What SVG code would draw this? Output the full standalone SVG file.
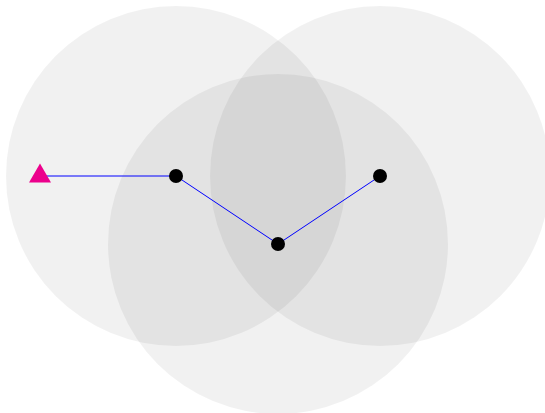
<svg xmlns="http://www.w3.org/2000/svg" width="545" height="413" viewBox="0 0 545 413">
<style>
.zone{fill:#000;fill-opacity:0.055;stroke:none}
.edge{stroke:#0000ff;stroke-width:1;fill:none}
.dot{fill:#000}
.start{fill:#ec008c}
</style>
<rect width="545" height="413" fill="#fff"/>
<g id="zones">
<circle class="zone" cx="176" cy="176" r="170"/>
<circle class="zone" cx="380" cy="176" r="170"/>
<circle class="zone" cx="278" cy="244" r="170"/>
</g>
<g id="connectors">
<line class="edge" x1="40" y1="176" x2="176" y2="176"/>
<line class="edge" x1="176" y1="176" x2="278" y2="244"/>
<line class="edge" x1="278" y1="244" x2="380" y2="176"/>
</g>
<g id="start"><polygon class="start" points="40,163.5 29,182.5 51,182.5"/></g>
<g id="n1"><circle class="dot" cx="176" cy="176" r="7"/></g>
<g id="n2"><circle class="dot" cx="278" cy="244" r="7"/></g>
<g id="n3"><circle class="dot" cx="380" cy="176" r="7"/></g>
</svg>
